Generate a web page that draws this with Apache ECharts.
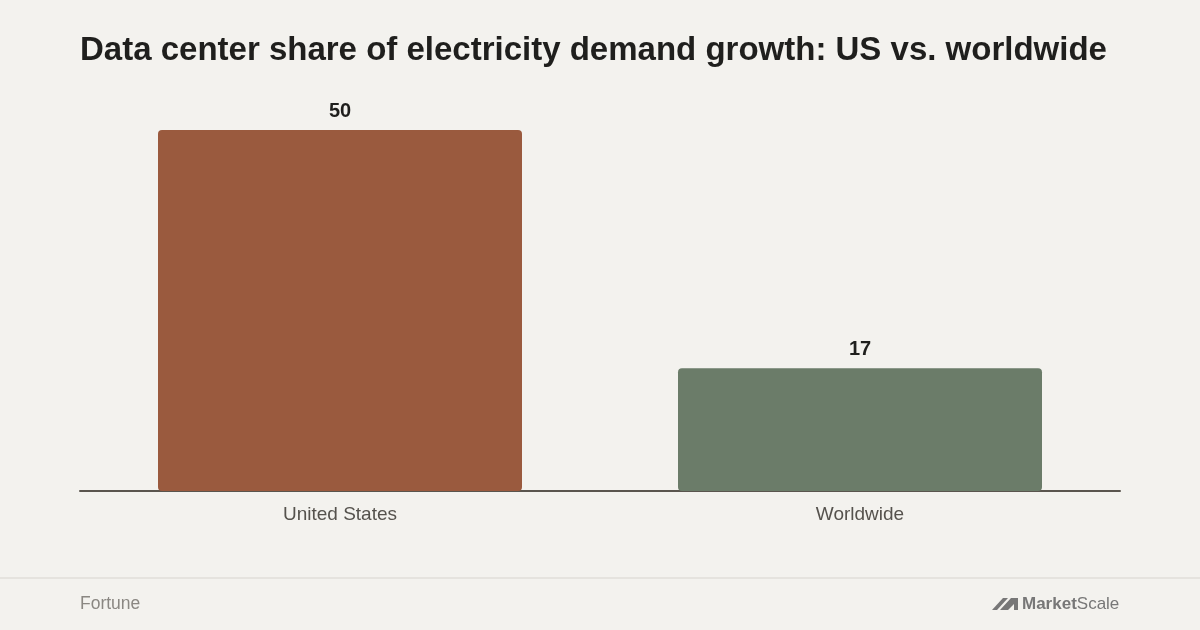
<!DOCTYPE html>
<html><head><meta charset="utf-8">
<script src="https://cdn.jsdelivr.net/npm/echarts@6/dist/echarts.min.js"></script>
<style>html,body{margin:0;padding:0;background:#f3f2ee;}#c{width:1200px;height:630px;}</style>
</head><body><div id="c"></div>
<script>
const categories = ["United States", "Worldwide"];
const shareValues = [50, 17];
const barColors = ["#9a5a3e", "#6b7c69"];

const chart = echarts.init(document.getElementById('c'));
chart.setOption({
  backgroundColor: '#f3f2ee',
  animation: false,
  title: {
    text: 'Data center share of electricity demand growth: US vs. worldwide',
    left: 75, top: 29,
    textStyle: { fontFamily: 'Liberation Sans', fontSize: 33, fontWeight: 'bold', color: '#1f1f1d' }
  },
  grid: { left: 80, right: 80, top: 130, bottom: 139 },
  xAxis: {
    type: 'category', data: categories,
    axisLine: { lineStyle: { color: '#5a554e', width: 2 } },
    axisTick: { show: false },
    axisLabel: { fontFamily: 'Liberation Sans', fontSize: 19, color: '#55524d', margin: 14 }
  },
  yAxis: { type: 'value', min: 0, max: 50, show: false, splitLine: { show: false } },
  series: [{
    type: 'bar', barWidth: '70%',
    data: shareValues.map((v, i) => ({ value: v, itemStyle: { color: barColors[i] } })),
    itemStyle: { borderRadius: 4 },
    label: { show: true, position: 'top', distance: 9, fontFamily: 'Liberation Sans', fontSize: 20, fontWeight: 'bold', color: '#1f1f1d' },
    z: 1
  }],
  graphic: [
    { type: 'rect', shape: { x: 0, y: 577, width: 1200, height: 2 }, style: { fill: '#e5e3de' } },
    { type: 'text', left: 80, top: 595, style: { text: 'Fortune', font: '17.5px "Liberation Sans"', fill: '#8a8782' } },
    { type: 'polygon', shape: { points: [[992,610],[1003,598],[1008,598],[997,610]] }, style: { fill: '#777' } },
    { type: 'polygon', shape: { points: [[1000,610],[1011,598],[1018,598],[1018,610],[1014,610],[1014,604],[1008,610]] }, style: { fill: '#777' } },
    { type: 'text', left: 1022, top: 596, style: {
        text: '{a|Market}{b|Scale}',
        rich: { a: { font: 'bold 17px "Liberation Sans"', fill: '#777' }, b: { font: '17px "Liberation Sans"', fill: '#777' } }
    } }
  ]
});
</script></body></html>
